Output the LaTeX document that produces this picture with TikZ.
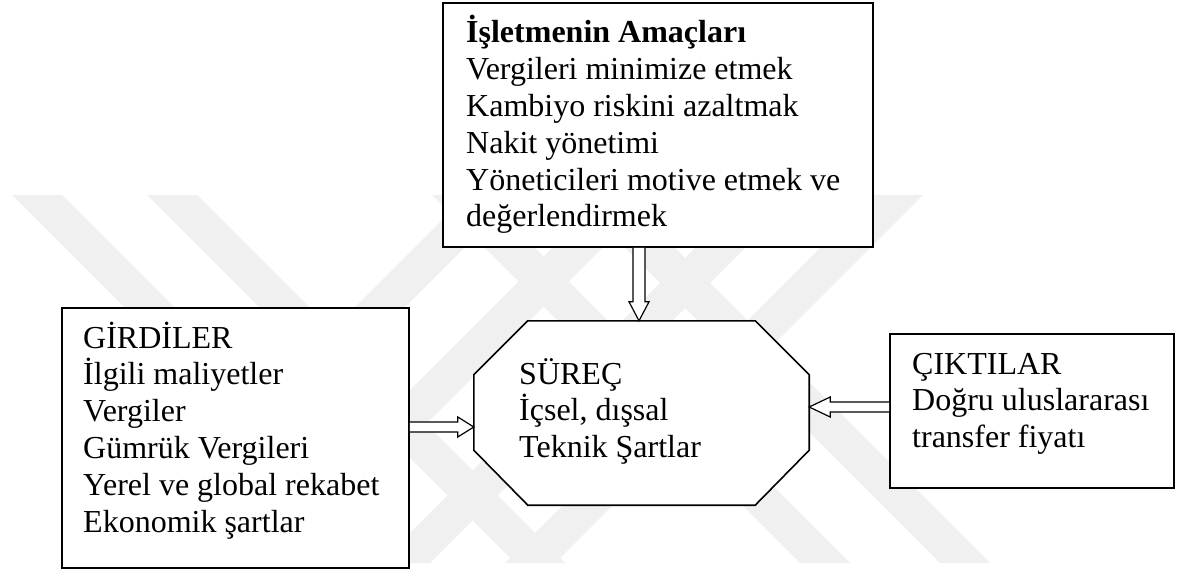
\documentclass[tikz,border=0pt]{standalone}
\usepackage{fontspec}
\setmainfont{Liberation Serif}
\usetikzlibrary{calc}
\begin{document}
\begin{tikzpicture}[x=1pt,y=-1pt,
  boxstyle/.style={draw=black, line width=1.6pt, fill=white, inner sep=0pt},
  txt/.style={anchor=base west, inner sep=0pt, font=\fontsize{32}{36.8}\selectfont},
  harrow/.style={draw=black, line width=1.2pt, fill=white, line join=miter},
  wm/.style={fill=black!6, draw=none}]
\useasboundingbox (0,0) rectangle (1185,572);
\fill[white] (0,0) rectangle (1185,572);
% faint watermark
\foreach \t in {12,147,432,572}
  \fill[wm] (\t,195) -- ++(50,0) -- ++(368,368) -- ++(-50,0) -- cycle;
\foreach \t in {467,605,748,873}
  \fill[wm] (\t,195) -- ++(50,0) -- ++(-368,368) -- ++(-50,0) -- cycle;
% boxes
\node[boxstyle, minimum width=430pt, minimum height=244pt] (amac) at (658,125) {};
\node[boxstyle, minimum width=347pt, minimum height=260pt] (girdi) at (235.5,438) {};
\node[boxstyle, minimum width=284pt, minimum height=154pt] (cikti) at (1032,411) {};
\node[inner sep=0pt, minimum width=335pt, minimum height=184pt] (proc) at (641.5,413) {};
\draw[boxstyle] ($(proc.north west)+(54,0)$) -- ($(proc.north east)+(-54,0)$)
  -- ($(proc.north east)+(0,54)$) -- ($(proc.south east)+(0,-55)$)
  -- ($(proc.south east)+(-54,0)$) -- ($(proc.south west)+(54,0)$)
  -- ($(proc.south west)+(0,-55)$) -- ($(proc.north west)+(0,54)$) -- cycle;
% texts
\node[txt] (tamac) at (466,43) {\vtop{\hbox{\bfseries İşletmenin Amaçları}\hbox{Vergileri minimize etmek}\hbox{Kambiyo riskini azaltmak}\hbox{Nakit yönetimi}\hbox{Yöneticileri motive etmek ve}\hbox{değerlendirmek}}};
\node[txt] (tgirdi) at (83,348) {\vtop{\hbox{GİRDİLER}\hbox{İlgili maliyetler}\hbox{Vergiler}\hbox{Gümrük Vergileri}\hbox{Yerel ve global rekabet}\hbox{Ekonomik şartlar}}};
\node[txt] (tproc) at (519,384) {\vtop{\hbox{SÜREÇ}\hbox{İçsel, dışsal}\hbox{Teknik Şartlar}}};
\node[txt] (tcikti) at (912,374) {\vtop{\hbox{ÇIKTILAR}\hbox{Doğru uluslararası}\hbox{transfer fiyatı}}};
% arrows
\coordinate (dA) at ($(amac.south)+(-19,0)$);
\coordinate (dB) at (dA |- proc.north);
\draw[harrow] ($(dA)+(-6,0)$) -- ($(dB)+(-6,-19)$) -- ($(dB)+(-10,-19)$) -- (dB)
  -- ($(dB)+(10,-19)$) -- ($(dB)+(6,-19)$) -- ($(dA)+(6,0)$);
\coordinate (lA) at ($(girdi.east)+(0,-11)$);
\coordinate (lB) at (proc.west |- lA);
\draw[harrow] ($(lA)+(0,-5)$) -- ($(lB)+(-16,-5)$) -- ($(lB)+(-16,-10)$) -- (lB)
  -- ($(lB)+(-16,10)$) -- ($(lB)+(-16,5)$) -- ($(lA)+(0,5)$);
\coordinate (rA) at ($(cikti.west)+(0,-4)$);
\coordinate (rB) at (proc.east |- rA);
\draw[harrow] ($(rA)+(0,-5)$) -- ($(rB)+(21,-5)$) -- ($(rB)+(21,-10)$) -- (rB)
  -- ($(rB)+(21,10)$) -- ($(rB)+(21,5)$) -- ($(rA)+(0,5)$);
\end{tikzpicture}
\end{document}
